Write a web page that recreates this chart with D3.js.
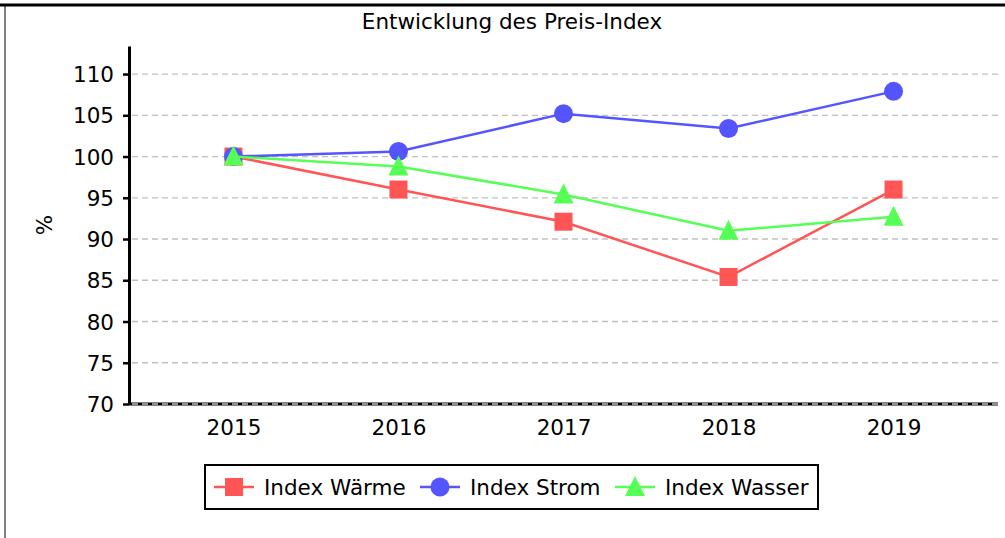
<html>
	<head>
		<title></title>
		<script type="text/javascript" src="https://d3js.org/d3.v7.min.js"></script>
		<style>
			body { margin: 0; background-color: #ffffff; }
			text { font-family: "DejaVu Sans", sans-serif; fill: #000; }
		</style>
	</head>
	<body>
		<div></div>
		<script>
			//Data
			var years = ["2015","2016","2017","2018","2019"];
			var waerme = [100, 96.0, 92.1, 85.4, 96.0];
			var strom = [100, 100.6, 105.2, 103.4, 107.9];
			var wasser = [100, 98.8, 95.4, 91.0, 92.7];
			var seriesNames = ["Index Wärme","Index Strom","Index Wasser"];
			var seriesColors = ["#ff5555","#5555ff","#55ff55"];
			var seriesShapes = ["square","circle","triangle"];
			var yTicks = [70,75,80,85,90,95,100,105,110];

			var canvasWidth = 1005, canvasHeight = 538;
			var plotLeft = 129, plotRight = 998, plotTop = 46, plotBottom = 404;
			var fontSize = "21.5px";

			var canvas = d3.select("div").append("svg")
				.attr("width",canvasWidth)
				.attr("height",canvasHeight);

			//Frame
			canvas.append("line").attr("x1",5).attr("x2",5).attr("y1",5).attr("y2",538)
				.attr("stroke","#808080").attr("stroke-width",2);
			canvas.append("line").attr("x1",0).attr("x2",1005).attr("y1",5).attr("y2",5)
				.attr("stroke","#000").attr("stroke-width",3);

			var xScale = d3.scalePoint().domain(years).range([plotLeft,plotRight]).padding(0.633);
			var yScale = d3.scaleLinear().domain([70,113.4]).range([plotBottom,plotTop]);

			//Title
			canvas.append("text").text("Entwicklung des Preis-Index")
				.attr("x",512).attr("y",29).attr("text-anchor","middle").style("font-size",fontSize);

			//Y label
			canvas.append("text").text("%")
				.attr("transform","translate(52,225) rotate(-90)")
				.attr("text-anchor","middle").style("font-size",fontSize);

			//Axes
			var yAxis = canvas.append("g").attr("transform","translate("+plotLeft+",0)")
				.call(d3.axisLeft(yScale).tickValues(yTicks).tickSize(6).tickSizeOuter(0).tickPadding(9));
			yAxis.selectAll("text").style("font-size",fontSize).attr("dy","0.35em");
			yAxis.selectAll("line").attr("stroke","#000").attr("stroke-width",2.5);
			yAxis.select(".domain").attr("stroke","#000").attr("stroke-width",3);

			var xAxis = canvas.append("g").attr("transform","translate(0,"+plotBottom+")")
				.call(d3.axisBottom(xScale).tickSize(0).tickPadding(16));
			xAxis.selectAll("text").style("font-size",fontSize);
			xAxis.select(".domain").attr("d","M"+plotLeft+",0H"+plotRight).attr("stroke","#000").attr("stroke-width",3);

			//Gridlines
			canvas.append("g").selectAll("line").data(yTicks).enter().append("line")
				.attr("x1",plotLeft+3).attr("x2",plotRight)
				.attr("y1",function(d){return yScale(d);})
				.attr("y2",function(d){return yScale(d);})
				.attr("stroke","#c0c0c0").attr("stroke-width",1.3).attr("stroke-dasharray","6,4");

			//Lines and markers
			var allSeries = [waerme, strom, wasser];
			var line = d3.line().x(function(d,i){return xScale(years[i]);}).y(function(d){return yScale(d);});

			function marker(g, shape, color, x, y){
				if(shape=="square"){
					g.append("rect").attr("x",x-9).attr("y",y-9).attr("width",18).attr("height",18).attr("fill",color);
				} else if(shape=="circle"){
					g.append("circle").attr("cx",x).attr("cy",y).attr("r",9.5).attr("fill",color);
				} else {
					g.append("path").attr("d","M"+x+","+(y-11)+"L"+(x+10)+","+(y+9)+"L"+(x-10)+","+(y+9)+"Z").attr("fill",color);
				}
			}

			allSeries.forEach(function(s,k){
				var g = canvas.append("g");
				g.append("path").datum(s).attr("d",line).attr("fill","none")
					.attr("stroke",seriesColors[k]).attr("stroke-width",2.5);
				s.forEach(function(v,i){
					marker(g, seriesShapes[k], seriesColors[k], xScale(years[i]), yScale(v));
				});
			});

			//Legend
			var legend = canvas.append("g");
			legend.append("rect").attr("x",205).attr("y",465).attr("width",613).attr("height",44)
				.attr("fill","#fff").attr("stroke","#000").attr("stroke-width",2);
			var legendX = [234, 440, 635];
			seriesNames.forEach(function(name,k){
				var cx = legendX[k], cy = 487;
				legend.append("line").attr("x1",cx-20).attr("x2",cx+20).attr("y1",cy).attr("y2",cy)
					.attr("stroke",seriesColors[k]).attr("stroke-width",2.5);
				marker(legend, seriesShapes[k], seriesColors[k], cx, cy);
				legend.append("text").text(name).attr("x",cx+30).attr("y",cy+8).style("font-size",fontSize);
			});
		</script>
	</body>
</html>
